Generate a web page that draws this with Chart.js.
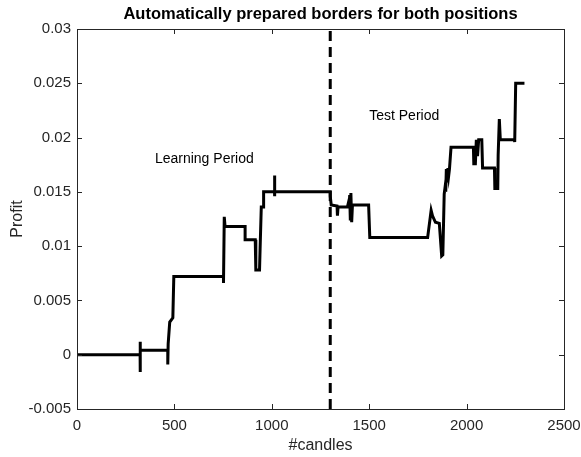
<!DOCTYPE html>
<html>
<head>
<meta charset="utf-8">
<title>Profit</title>
<script src="https://cdn.jsdelivr.net/npm/chart.js@4.4.0/dist/chart.umd.min.js"></script>
<style>
  html, body { margin: 0; padding: 0; background: #fff; }
</style>
</head>
<body>
<canvas id="profitChart" width="581" height="457"></canvas>
<script>
// profit curve, candle index -> cumulative profit
var candles = [
    0, 324, 324, 324, 326, 466, 466, 468, 476, 492, 497,
    752, 752, 756, 760, 863, 863, 915, 918, 937, 940, 946, 955, 958,
    1014, 1014, 1014, 1016, 1300, 1300, 1305, 1335, 1337, 1340, 1388,
    1392, 1396, 1400, 1403, 1406, 1410, 1414, 1497, 1503, 1800,
    1805, 1818, 1825, 1840, 1860, 1872, 1878, 1885, 1890, 1893, 1896,
    1900, 1904, 1908, 1912, 1920, 2035, 2037, 2045, 2050, 2056, 2062,
    2078, 2082, 2143, 2145, 2160, 2162, 2166, 2168, 2173, 2245, 2247,
    2252, 2297
];
var profit = [
    0, 0, 0.0012, -0.0016, 0.0004, 0.0004, -0.0009, 0.001, 0.003, 0.0034, 0.0072,
    0.0072, 0.0066, 0.0127, 0.0118, 0.0118, 0.0106, 0.0106, 0.0078, 0.0078, 0.0098, 0.0136, 0.0136, 0.015,
    0.015, 0.0165, 0.0146, 0.015, 0.015, 0.0146, 0.0138, 0.0137, 0.0128, 0.0136, 0.0136,
    0.0139, 0.0135, 0.0147, 0.0125, 0.0149, 0.0122, 0.0138, 0.0138, 0.0108, 0.0108,
    0.0115, 0.0133, 0.0128, 0.0122, 0.0121, 0.0091, 0.0092, 0.0148, 0.0155, 0.0150, 0.0171,
    0.0160, 0.0172, 0.0165, 0.0171, 0.0191, 0.0191, 0.0176, 0.0176, 0.0198, 0.0183, 0.0198,
    0.0198, 0.0172, 0.0172, 0.0153, 0.0153, 0.0184, 0.0184, 0.0217, 0.0198, 0.0198, 0.0196,
    0.025, 0.025
];

// border between learning and test data
var splitCandle = 1300;

var xTicks = [0, 500, 1000, 1500, 2000, 2500];
var yTicks = [-0.005, 0, 0.005, 0.01, 0.015, 0.02, 0.025, 0.03];

var noteTexts = ['Learning Period', 'Test Period'];
var noteX = [400, 1500];
var noteY = [0.018, 0.022];

var axisColor = '#262626';
var fontFamily = '"Liberation Sans", Arial, sans-serif';

var points = candles.map(function(c, i) { return { x: c, y: profit[i] }; });

// matlab style box with ticks pointing inwards + text labels
var boxPlugin = {
    id: 'boxTicks',
    afterDatasetsDraw: function(chart) {
        var ctx = chart.ctx;
        var a = chart.chartArea;
        var xs = chart.scales.x, ys = chart.scales.y;
        var len = 5;
        ctx.save();
        ctx.strokeStyle = axisColor;
        ctx.lineWidth = 1;
        ctx.beginPath();
        xTicks.forEach(function(t) {
            var px = Math.round(xs.getPixelForValue(t)) + 0.5;
            ctx.moveTo(px, a.bottom); ctx.lineTo(px, a.bottom - len);
            ctx.moveTo(px, a.top); ctx.lineTo(px, a.top + len);
        });
        yTicks.forEach(function(t) {
            var py = Math.round(ys.getPixelForValue(t)) + 0.5;
            ctx.moveTo(a.left, py); ctx.lineTo(a.left + len, py);
            ctx.moveTo(a.right, py); ctx.lineTo(a.right - len, py);
        });
        ctx.stroke();
        ctx.strokeRect(Math.round(a.left) + 0.5, Math.round(a.top) + 0.5,
            Math.round(a.right - a.left), Math.round(a.bottom - a.top));

        ctx.fillStyle = '#000';
        ctx.font = '14px ' + fontFamily;
        ctx.textAlign = 'left';
        ctx.textBaseline = 'middle';
        noteTexts.forEach(function(txt, i) {
            ctx.fillText(txt, xs.getPixelForValue(noteX[i]), ys.getPixelForValue(noteY[i]));
        });
        ctx.restore();
    }
};

var ctx = document.getElementById('profitChart').getContext('2d');
var profitChart = new Chart(ctx, {
    type: 'scatter',
    data: {
        datasets: [{
            label: 'Profit',
            data: points,
            showLine: true,
            borderColor: '#000',
            borderWidth: 3,
            pointRadius: 0,
            tension: 0,
            borderJoinStyle: 'miter'
        }, {
            label: 'Border',
            data: [{ x: splitCandle, y: yTicks[0] }, { x: splitCandle, y: yTicks[yTicks.length - 1] }],
            showLine: true,
            borderColor: '#000',
            borderWidth: 3,
            borderDash: [10, 6],
            pointRadius: 0
        }]
    },
    options: {
        responsive: false,
        animation: false,
        layout: { padding: { left: 0, right: 17, top: 0, bottom: 0 } },
        plugins: {
            legend: { display: false },
            tooltip: { enabled: false },
            title: {
                display: true,
                text: 'Automatically prepared borders for both positions',
                color: '#000',
                fullSize: false,
                font: { family: fontFamily, size: 16.5, weight: 'bold' },
                padding: { top: 5, bottom: 4.2 }
            }
        },
        scales: {
            x: {
                type: 'linear',
                min: 0,
                max: 2500,
                afterBuildTicks: function(scale) {
                    scale.ticks = xTicks.map(function(v) { return { value: v }; });
                },
                afterFit: function(scale) {
                    scale.height = 48;
                    // last label may hang over the right edge, like matlab does
                    scale.paddingLeft = 0;
                    scale.paddingRight = 0;
                },
                grid: { display: false, drawTicks: false },
                border: { display: false },
                ticks: {
                    color: axisColor,
                    padding: 8,
                    maxRotation: 0,
                    font: { family: fontFamily, size: 15 },
                    callback: function(v) { return String(v); }
                },
                title: {
                    display: true,
                    text: '#candles',
                    color: axisColor,
                    padding: { top: 0, bottom: 2 },
                    font: { family: fontFamily, size: 16 }
                }
            },
            y: {
                type: 'linear',
                min: -0.005,
                max: 0.03,
                afterBuildTicks: function(scale) {
                    scale.ticks = yTicks.map(function(v) { return { value: v }; });
                },
                afterFit: function(scale) { scale.width = 77; },
                grid: { display: false, drawTicks: false },
                border: { display: false },
                ticks: {
                    color: axisColor,
                    padding: 6,
                    font: { family: fontFamily, size: 15 },
                    callback: function(v) { return String(Number(v.toFixed(3))); }
                },
                title: {
                    display: true,
                    text: 'Profit',
                    color: axisColor,
                    padding: { top: 8, bottom: 0 },
                    font: { family: fontFamily, size: 16 }
                }
            }
        }
    },
    plugins: [boxPlugin]
});
</script>
</body>
</html>
